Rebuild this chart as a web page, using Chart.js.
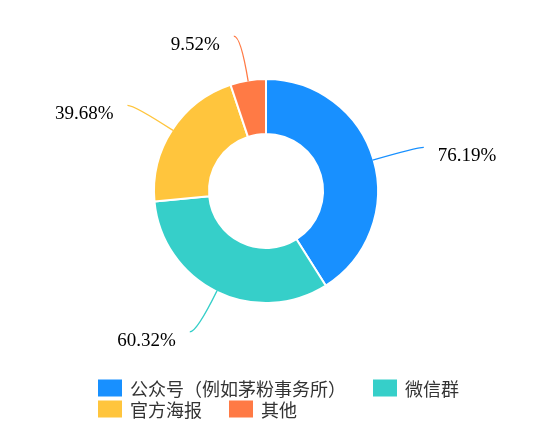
<!DOCTYPE html>
<html>
<head>
<meta charset="utf-8">
<script src="https://cdn.jsdelivr.net/npm/chart.js@4.4.1/dist/chart.umd.min.js"></script>
<style>
  html, body { margin: 0; padding: 0; background: #fff; }
  canvas { display: block; }
</style>
</head>
<body>
<canvas id="pieChart" width="554" height="443"></canvas>
<script>
const categories = ["公众号（例如茅粉事务所）", "微信群", "官方海报", "其他"];
const shares = [76.19, 60.32, 39.68, 9.52];
const colors = ["#1890ff", "#36cfc9", "#ffc53d", "#ff7a45"];

// percentage labels outside the ring, with a bent leader line
const outsideLabels = {
    id: "outsideLabels",
    afterDatasetsDraw(chart) {
        const ctx = chart.ctx;
        const meta = chart.getDatasetMeta(0);
        ctx.save();
        ctx.font = '19px "Liberation Serif"';
        ctx.textBaseline = "middle";
        meta.data.forEach((arc, i) => {
            const mid = (arc.startAngle + arc.endAngle) / 2;
            const cos = Math.cos(mid), sin = Math.sin(mid);
            const r = arc.outerRadius - 1;
            const x0 = arc.x + cos * r, y0 = arc.y + sin * r;
            const x1 = arc.x + cos * (r + 46), y1 = arc.y + sin * (r + 46);
            const side = cos >= 0 ? 1 : -1;
            const x2 = x1 + side * 7;
            ctx.strokeStyle = colors[i];
            ctx.lineWidth = 1.3;
            ctx.beginPath();
            ctx.moveTo(x0, y0);
            ctx.quadraticCurveTo(x1, y1, x2, y1);
            ctx.stroke();
            ctx.fillStyle = "#000";
            ctx.textAlign = side > 0 ? "left" : "right";
            ctx.fillText(shares[i].toFixed(2) + "%", x2 + side * 14, y1 + 9);
        });
        ctx.restore();
    }
};

// legend rows under the chart
const bottomLegend = {
    id: "bottomLegend",
    afterDraw(chart) {
        const ctx = chart.ctx;
        ctx.save();
        ctx.font = '18px "Noto Sans CJK SC"';
        ctx.textBaseline = "middle";
        ctx.textAlign = "left";
        let x = 98, y = 388;
        categories.forEach((name, i) => {
            const w = 24 + 8 + ctx.measureText(name).width;
            if (x > 98 && x + w > 500) { x = 98; y += 21; }
            ctx.fillStyle = colors[i];
            ctx.fillRect(x, y - 8.5, 24, 17);
            ctx.fillStyle = "#333";
            ctx.fillText(name, x + 32, y + 1);
            x += w + 27;
        });
        ctx.restore();
    }
};

const chart = new Chart(document.getElementById("pieChart"), {
    type: "doughnut",
    data: {
        labels: categories,
        datasets: [{
            data: shares,
            backgroundColor: colors,
            borderColor: "#fff",
            borderWidth: 2
        }]
    },
    options: {
        responsive: false,
        animation: false,
        events: [],
        radius: 112,
        cutout: 56,
        layout: { padding: { top: 80, bottom: 141, left: 0, right: 22 } },
        plugins: {
            legend: { display: false },
            tooltip: { enabled: false }
        }
    },
    plugins: [outsideLabels, bottomLegend]
});
</script>
</body>
</html>
